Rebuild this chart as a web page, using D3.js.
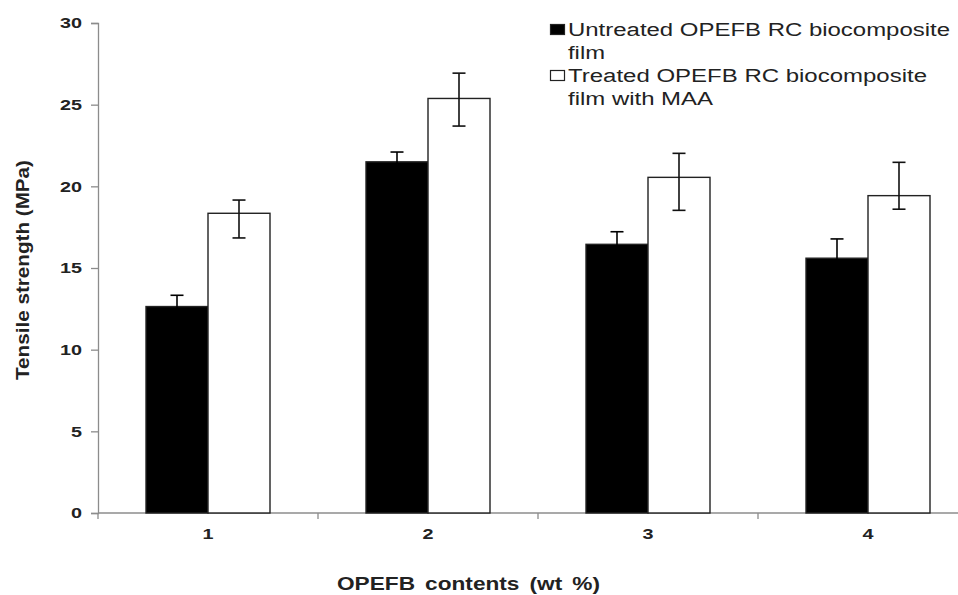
<!DOCTYPE html>
<html><head><meta charset="utf-8">
<script src="https://cdn.jsdelivr.net/npm/d3@7"></script>
<style>body{margin:0;background:#fff}svg{display:block}</style>
</head><body>
<svg id="chart" width="958" height="595"></svg>
<script>
const categories = ["1", "2", "3", "4"];
const seriesNames = ["Untreated OPEFB RC biocomposite film", "Treated OPEFB RC biocomposite film with MAA"];
const untreated = [12.64, 21.5, 16.45, 15.6];
const untreatedErrUp = [0.69, 0.6, 0.77, 1.18];
const untreatedErrDown = [0.69, 0.6, 0.77, 1.18];
const treated = [18.35, 25.38, 20.55, 19.43];
const treatedErrUp = [0.81, 1.55, 1.47, 2.04];
const treatedErrDown = [1.51, 1.69, 2.02, 0.83];
const yTicks = [0, 5, 10, 15, 20, 25, 30];

const svg = d3.select("#chart");
const FONT = "Liberation Sans, Arial, sans-serif";
const x0 = 98, x1 = 978, yTop = 23, yBot = 513;
const x = d3.scaleBand().domain(categories).range([x0, x1]).paddingInner(0).paddingOuter(0);
const y = d3.scaleLinear().domain([0, 30]).range([yBot, yTop]);
const barW = 62;

const axisColor = "#8c8c8c";
// Y axis
const yAxis = svg.append("g").attr("transform", `translate(${x0},0)`)
  .call(d3.axisLeft(y).tickValues(yTicks).tickSize(7).tickPadding(9));
yAxis.select(".domain").attr("stroke", axisColor).attr("stroke-width", 1.3);
yAxis.selectAll(".tick line").attr("stroke", axisColor).attr("stroke-width", 1.3);
yAxis.selectAll(".tick text").attr("font-family", FONT)
  .attr("font-size", 15).attr("font-weight", "bold").attr("fill", "#222")
  .attr("textLength", d => String(d).length * 11).attr("lengthAdjust", "spacingAndGlyphs");

// X axis
const xAxisG = svg.append("g").attr("transform", `translate(0,${yBot})`);
xAxisG.append("line").attr("x1", x0).attr("x2", x1).attr("stroke", axisColor).attr("stroke-width", 1.3);
const bounds = categories.map(c => x(c));
xAxisG.selectAll("line.tk").data(bounds).join("line").attr("class", "tk")
  .attr("x1", d => d).attr("x2", d => d).attr("y1", 0).attr("y2", 6)
  .attr("stroke", axisColor).attr("stroke-width", 1.3);
xAxisG.selectAll("text").data(categories).join("text")
  .attr("x", d => x(d) + x.bandwidth() / 2).attr("y", 26)
  .attr("text-anchor", "middle")
  .attr("font-family", FONT)
  .attr("font-size", 15).attr("font-weight", "bold").attr("fill", "#222")
  .attr("textLength", 11).attr("lengthAdjust", "spacingAndGlyphs")
  .text(d => d);

// Bars
const series = [
  {vals: untreated, up: untreatedErrUp, dn: untreatedErrDown, fill: "#000", err: "#000", off: -barW},
  {vals: treated, up: treatedErrUp, dn: treatedErrDown, fill: "#fff", err: "#111", off: 0}
];
series.forEach(s => {
  const g = svg.append("g");
  g.selectAll("rect").data(categories).join("rect")
    .attr("x", (c) => x(c) + x.bandwidth() / 2 + s.off)
    .attr("y", (c, i) => y(s.vals[i]))
    .attr("width", barW)
    .attr("height", (c, i) => y(0) - y(s.vals[i]))
    .attr("fill", s.fill).attr("stroke", "#222").attr("stroke-width", 1.4);
});
series.forEach(s => {
  const g = svg.append("g").attr("stroke", s.err).attr("stroke-width", 1.6);
  categories.forEach((c, i) => {
    const cx = x(c) + x.bandwidth() / 2 + s.off + barW / 2;
    const t = y(s.vals[i] + s.up[i]), b = y(s.vals[i] - s.dn[i]);
    g.append("line").attr("x1", cx).attr("x2", cx).attr("y1", t).attr("y2", b);
    g.append("line").attr("x1", cx - 6.5).attr("x2", cx + 6.5).attr("y1", t).attr("y2", t);
    g.append("line").attr("x1", cx - 6.5).attr("x2", cx + 6.5).attr("y1", b).attr("y2", b);
  });
});

// Axis titles
svg.append("text").attr("transform", "translate(29,270) rotate(-90)")
  .attr("text-anchor", "middle")
  .attr("font-family", FONT)
  .attr("font-size", 17.5).attr("font-weight", "bold").attr("fill", "#222")
  .attr("textLength", 220).attr("lengthAdjust", "spacingAndGlyphs")
  .text("Tensile strength (MPa)");
svg.append("text").attr("x", 468.5).attr("y", 590)
  .attr("text-anchor", "middle")
  .attr("font-family", FONT)
  .attr("font-size", 18).attr("font-weight", "bold").attr("fill", "#222")
  .attr("word-spacing", 3)
  .attr("textLength", 263).attr("lengthAdjust", "spacingAndGlyphs")
  .text("OPEFB contents (wt %)");

// Legend
const legendLines = [
  ["Untreated OPEFB RC biocomposite", "film"],
  ["Treated OPEFB RC biocomposite", "film with MAA"]
];
const legendWidths = [[382, 37], [359, 145]];
const legendFills = ["#000", "#fff"];
const lg = svg.append("g");
legendLines.forEach((lines, i) => {
  const by = 36 + i * 46;
  lg.append("rect").attr("x", 550.5).attr("y", by - 11.5).attr("width", 14).attr("height", 10)
    .attr("fill", legendFills[i]).attr("stroke", "#222").attr("stroke-width", 1.2);
  lines.forEach((t, j) => {
    lg.append("text").attr("x", 568).attr("y", by + j * 22.5)
      .attr("font-family", FONT)
      .attr("font-size", 18).attr("fill", "#222")
      .attr("textLength", legendWidths[i][j]).attr("lengthAdjust", "spacingAndGlyphs")
      .text(t);
  });
});
</script>
</body></html>
